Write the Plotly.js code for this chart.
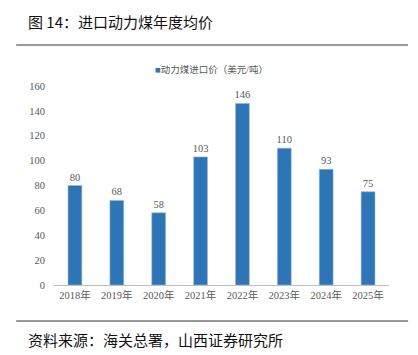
<!DOCTYPE html>
<html><head><meta charset="utf-8">
<script src="https://cdn.plot.ly/plotly-3.0.1.min.js"></script>
<style>html,body{margin:0;padding:0;background:#fff}#c{width:418px;height:355px}</style>
</head><body><div id="c"></div>
<script>
const years = ["2018年","2019年","2020年","2021年","2022年","2023年","2024年","2025年"];
const prices = [80, 68, 58, 103, 146, 110, 93, 75];
const seriesName = "动力煤进口价（美元/吨）";
const yTicks = [0,20,40,60,80,100,120,140,160];
const chartTitle = "图 14：进口动力煤年度均价";
const sourceText = "资料来源：海关总署，山西证券研究所";

const serif = "'Liberation Serif', 'Noto Sans CJK SC', serif";
const grey = "#595959";
const barColor = "#2E75B6";

Plotly.newPlot("c", [{
  type: "bar",
  x: years,
  y: prices,
  name: seriesName,
  marker: {color: barColor, line: {color: "#9fb6cc", width: 0.6}},
  text: prices.map(String),
  textposition: "outside",
  constraintext: "none",
  textfont: {family: serif, size: 10.5, color: grey},
  cliponaxis: false,
  showlegend: false
}], {
  width: 418, height: 355,
  margin: {l: 54, r: 29, t: 86, b: 70},
  paper_bgcolor: "#fff", plot_bgcolor: "#fff",
  bargap: 0.67,
  font: {family: serif, color: grey, size: 10},
  xaxis: {
    tickfont: {family: serif, size: 10.5, color: grey},
    showline: true, linecolor: "#bfbfbf", linewidth: 1.2,
    ticks: "", showgrid: false, fixedrange: true
  },
  yaxis: {
    range: [0, 160], tickvals: yTicks, ticktext: yTicks.map(String),
    tickfont: {family: serif, size: 10.5, color: grey},
    showgrid: false, zeroline: false, showline: false, ticks: "",
    ticklabelstandoff: 8, fixedrange: true
  },
  showlegend: false,
  shapes: [
    {type: "line", xref: "paper", yref: "paper", x0: -0.113, x1: 1.057, y0: 1.206, y1: 1.206,
     line: {color: "#999", width: 2}},
    {type: "line", xref: "paper", yref: "paper", x0: -0.113, x1: 1.057, y0: -0.181, y1: -0.181,
     line: {color: "#333", width: 1}}
  ],
  annotations: [
    {text: '<span style="color:' + barColor + '">■</span>' + seriesName,
     xref: "paper", yref: "paper", x: 0.295, y: 1.085, xanchor: "left", yanchor: "middle",
     showarrow: false, font: {family: serif, size: 9.5, color: grey}},
    {text: chartTitle, xref: "paper", yref: "paper", x: -0.083, y: 1.322, xanchor: "left", yanchor: "middle",
     showarrow: false, font: {family: "'Noto Sans CJK SC', sans-serif", size: 15, color: "#111"}},
    {text: sourceText, xref: "paper", yref: "paper", x: -0.083, y: -0.276, xanchor: "left", yanchor: "middle",
     showarrow: false, font: {family: "'Noto Sans CJK SC', sans-serif", size: 15, color: "#111"}}
  ]
}, {displayModeBar: false, staticPlot: true});
</script></body></html>
